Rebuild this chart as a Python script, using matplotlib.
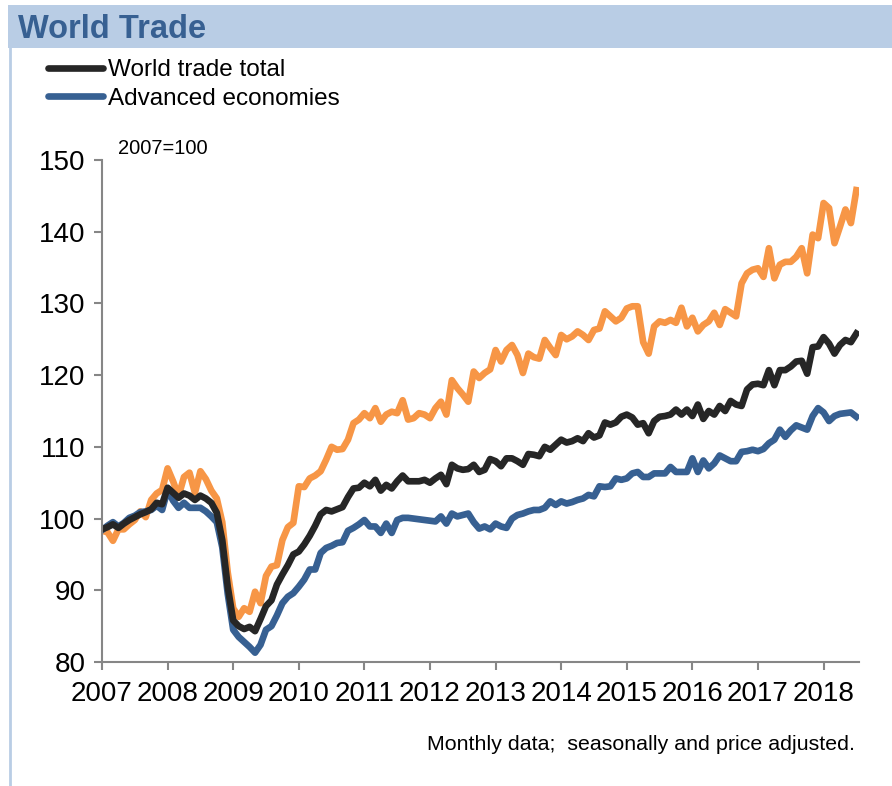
import numpy as np
import matplotlib
matplotlib.use("Agg")
import matplotlib.pyplot as plt
from matplotlib.lines import Line2D
from matplotlib.patches import Rectangle

# monthly index values, Jan 2007 .. Jul 2018 (2007=100)
world_total = [
    98.5, 98.8, 99.2, 98.7, 99.3, 99.8, 100.2, 100.6, 100.9, 101.3, 102.2, 102.0,
    104.3, 103.6, 102.9, 103.5, 103.2, 102.6, 103.2, 102.8, 102.2, 100.8, 97.0, 90.5,
    85.8, 85.0, 84.6, 84.9, 84.3, 86.0, 87.8, 88.6, 90.8, 92.2, 93.5, 95.0,
    95.4, 96.4, 97.6, 99.0, 100.6, 101.2, 101.0, 101.3, 101.6, 103.0, 104.2, 104.3,
    105.0, 104.5, 105.4, 103.9, 104.7, 104.2, 105.2, 106.0, 105.2, 105.2, 105.2, 105.4,
    105.0, 105.6, 106.1, 104.8, 107.5, 107.0, 106.8, 106.9, 107.5, 106.5, 106.8, 108.3,
    108.0, 107.3, 108.4, 108.4, 108.0, 107.5, 109.0, 108.9, 108.7, 110.0, 109.6, 110.3,
    111.0, 110.6, 110.8, 111.2, 110.8, 111.9, 111.3, 111.6, 113.4, 113.1, 113.4, 114.2,
    114.5, 114.1, 113.1, 113.3, 111.9, 113.6, 114.2, 114.3, 114.5, 115.2, 114.5, 115.2,
    114.3, 115.9, 113.9, 115.0, 114.5, 115.7, 115.0, 116.4, 115.9, 115.7, 118.0, 118.7,
    118.8, 118.6, 120.7, 118.6, 120.7, 120.7, 121.2, 121.9, 122.0, 120.2, 123.9, 124.0,
    125.3, 124.4, 123.0, 124.2, 124.9, 124.6, 125.8,
]

advanced = [
    98.4, 99.0, 99.5, 98.9, 99.4, 100.1, 100.4, 100.9, 101.0, 101.2, 101.8, 101.2,
    104.0, 102.5, 101.5, 102.2, 101.5, 101.5, 101.5, 101.0, 100.3, 99.5, 96.0, 89.5,
    84.5, 83.5, 82.8, 82.1, 81.3, 82.4, 84.5, 85.0, 86.5, 88.2, 89.1, 89.6,
    90.5, 91.5, 92.9, 92.9, 95.2, 95.9, 96.2, 96.6, 96.7, 98.3, 98.7, 99.2,
    99.8, 98.9, 98.9, 98.0, 99.3, 98.0, 99.8, 100.1, 100.1, 100.0, 99.9, 99.8,
    99.7, 99.6, 100.3, 99.3, 100.7, 100.3, 100.5, 100.7, 99.5, 98.6, 98.9, 98.5,
    99.3, 98.9, 98.7, 100.0, 100.5, 100.7, 101.0, 101.2, 101.2, 101.5, 102.4, 101.9,
    102.4, 102.1, 102.3, 102.6, 102.8, 103.3, 103.1, 104.5, 104.4, 104.5, 105.6, 105.4,
    105.6, 106.3, 106.5, 105.8, 105.8, 106.3, 106.3, 106.3, 107.2, 106.5, 106.5, 106.5,
    108.4, 106.5, 108.1, 107.0, 107.7, 108.8, 108.4, 108.0, 108.0, 109.3, 109.4, 109.6,
    109.4, 109.7, 110.5, 111.0, 112.4, 111.4, 112.3, 113.0, 112.7, 112.4, 114.3, 115.4,
    114.8, 113.6, 114.3, 114.6, 114.7, 114.8, 114.2,
]

emerging = [
    98.3, 98.1, 96.9, 98.5, 98.5, 99.2, 99.8, 101.0, 100.2, 102.6, 103.5, 104.0,
    107.0, 105.2, 103.1, 105.8, 106.4, 103.6, 106.6, 105.5, 103.9, 102.8, 99.5, 92.5,
    87.5, 86.3, 87.5, 87.0, 89.8, 88.2, 92.0, 93.3, 93.5, 97.0, 98.8, 99.4,
    104.5, 104.4, 105.6, 106.0, 106.6, 108.2, 110.0, 109.6, 109.7, 111.0, 113.3, 113.8,
    114.7, 114.0, 115.4, 113.5, 114.5, 114.9, 114.7, 116.5, 113.8, 114.0, 114.7, 114.5,
    114.0, 115.4, 116.3, 114.5, 119.3, 118.2, 117.3, 116.3, 120.5, 119.6, 120.3, 120.8,
    123.5, 121.9, 123.5, 124.2, 122.8, 120.3, 123.0, 122.5, 122.3, 124.9, 123.8, 122.8,
    125.6, 125.0, 125.4, 126.1, 125.6, 124.9, 126.3, 126.5, 128.9, 128.2, 127.5, 128.0,
    129.3, 129.6, 129.6, 124.6, 123.0, 126.8, 127.5, 127.3, 127.7, 127.3, 129.4, 126.8,
    128.0, 126.1, 127.0, 127.5, 128.7, 127.0, 129.2, 128.7, 128.2, 132.8, 134.2, 134.7,
    134.9, 133.7, 137.7, 133.5, 135.4, 135.8, 135.8, 136.5, 137.7, 134.2, 139.6, 139.1,
    144.0, 143.3, 138.4, 140.7, 143.1, 141.2, 145.8,
]

years = list(range(2007, 2019))
series_labels = ["World trade total", "Advanced economies"]

W, H = 892, 786
plt.rcParams["font.family"] = ["Liberation Sans", "DejaVu Sans"]
fig = plt.figure(figsize=(W / 100, H / 100), dpi=100)

# header band and left border
fig.patches.append(Rectangle((8 / W, 1 - 48 / H), 1, 43 / H, transform=fig.transFigure,
                             facecolor="#B9CDE5", edgecolor="none", zorder=0))
fig.add_artist(Line2D([10 / W, 10 / W], [0, 1 - 48 / H], color="#B9CDE5", lw=2.0))
fig.text(18 / W, 1 - 29 / H, "World Trade", fontsize=23.5, fontweight="bold",
         color="#376092", va="center", ha="left")

ax = fig.add_axes([102 / W, 1 - 662 / H, (859 - 102) / W, (662 - 160) / H])
t = 2007 + np.arange(len(world_total)) / 12.0

lw = 4.8
ax.plot(t, emerging, color="#F79646", lw=lw, solid_joinstyle="round")
l_adv, = ax.plot(t, advanced, color="#376092", lw=lw, solid_joinstyle="round")
l_tot, = ax.plot(t, world_total, color="#262626", lw=lw, solid_joinstyle="round")

ax.set_xlim(2007, 2018.54)
ax.set_ylim(80, 150)
ax.set_yticks(range(80, 151, 10))
ax.set_xticks(years)
ax.set_xticklabels([str(y) for y in years])
for s in ("top", "right"):
    ax.spines[s].set_visible(False)
for s in ("left", "bottom"):
    ax.spines[s].set_color("#868686")
    ax.spines[s].set_linewidth(1.5)
ax.tick_params(axis="both", colors="#868686", labelcolor="black", labelsize=20,
               length=6, width=1.5, direction="out")
ax.tick_params(axis="x", pad=8)
ax.tick_params(axis="y", pad=6)

ax.text(118 / W, 1 - 148 / H, "2007=100", transform=fig.transFigure, fontsize=14.5,
        va="center", ha="left")

leg = fig.legend([l_tot, l_adv], series_labels, loc="upper left",
                 bbox_to_anchor=(48 / W, 1 - 59 / H), frameon=False, fontsize=17.5,
                 handlelength=2.25, handletextpad=0.2, labelspacing=0.28,
                 borderpad=0, borderaxespad=0)
for h in leg.legend_handles:
    h.set_solid_capstyle("round")

fig.text(855 / W, 1 - 745 / H, "Monthly data;  seasonally and price adjusted.",
         fontsize=15.4, ha="right", va="center")

fig.savefig("out.png", dpi=100)
